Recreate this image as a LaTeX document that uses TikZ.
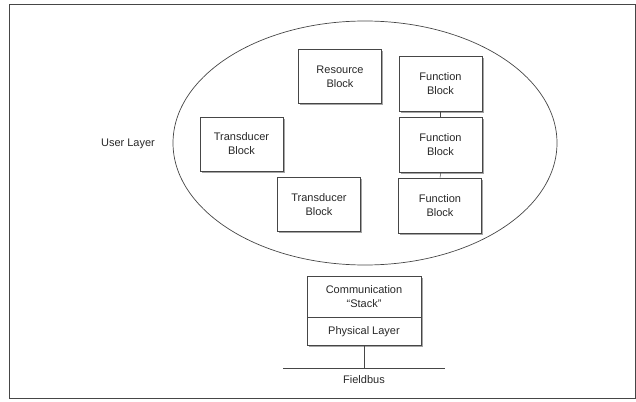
\documentclass[tikz,border=0pt]{standalone}
\usepackage{fontspec}
\setmainfont{Liberation Sans}
\usetikzlibrary{positioning, shapes.geometric, shadows}
\definecolor{scanline}{RGB}{70, 70, 70}
\definecolor{scantext}{RGB}{40, 40, 40}

\begin{document}
\begin{tikzpicture}[x=1pt, y=-1pt,
    blockbox/.style={draw=scanline, fill=white, line width=0.7pt,
      minimum width=83pt, minimum height=54pt, align=center, inner sep=2pt,
      text=scantext, font=\fontsize{11}{14}\selectfont,
      drop shadow={shadow xshift=1.6pt, shadow yshift=-1.6pt, fill=black!70}},
    stackbox/.style={draw=scanline, fill=white, line width=0.7pt,
      minimum width=114pt, align=center, inner sep=2pt,
      text=scantext, font=\fontsize{11}{14}\selectfont},
    lbl/.style={text=scantext, font=\fontsize{11}{14}\selectfont}]
  \useasboundingbox (0,0) rectangle (636,401);
  % outer frame
  \draw[scanline, line width=0.8pt] (9,4) rectangle (635,398);

  % user layer
  \node[draw=scanline, line width=0.7pt, ellipse, minimum width=384pt,
        minimum height=244pt, inner sep=0pt] (userlayer) at (365,143) {};
  \node[lbl] (userlbl) at (128,144) {User Layer};

  \node[blockbox] (resource) at (340,76.5) {Resource\\Block};
  \node[blockbox, minimum height=55pt] (fb1) at (440.5,83.5) {Function\\Block};
  \node[blockbox, minimum height=55pt] (fb2) at (440.5,144.5) {Function\\Block};
  \node[blockbox, minimum height=55pt] (fb3) at (440,205.5) {Function\\Block};
  \node[blockbox] (trans1) at (241.5,144) {Transducer\\Block};
  \node[blockbox] (trans2) at (319,204.5) {Transducer\\Block};
  \draw[scanline, line width=0.5pt] (fb1) -- (fb2);
  \draw[scanline, line width=0.5pt] (fb2) -- (fb3);

  % stack and bus
  \node[stackbox, minimum height=41pt,
        drop shadow={shadow xshift=1.6pt, shadow yshift=-1.6pt, fill=black!70}]
        (comm) at (364,296.5) {Communication\\``Stack''};
  \node[stackbox, minimum height=28pt, below=0pt of comm,
        drop shadow={shadow xshift=1.6pt, shadow yshift=-1.6pt, fill=black!70}]
        (phys) {Physical Layer};
  \coordinate (busL) at (283,368);
  \coordinate (busR) at (445,368);
  \draw[scanline, line width=0.6pt] (busL) -- (busR);
  \draw[scanline, line width=0.5pt] (phys.south) -- (phys.south |- busL);
  \node[lbl] (fieldbus) at (364,380) {Fieldbus};
\end{tikzpicture}
\end{document}
